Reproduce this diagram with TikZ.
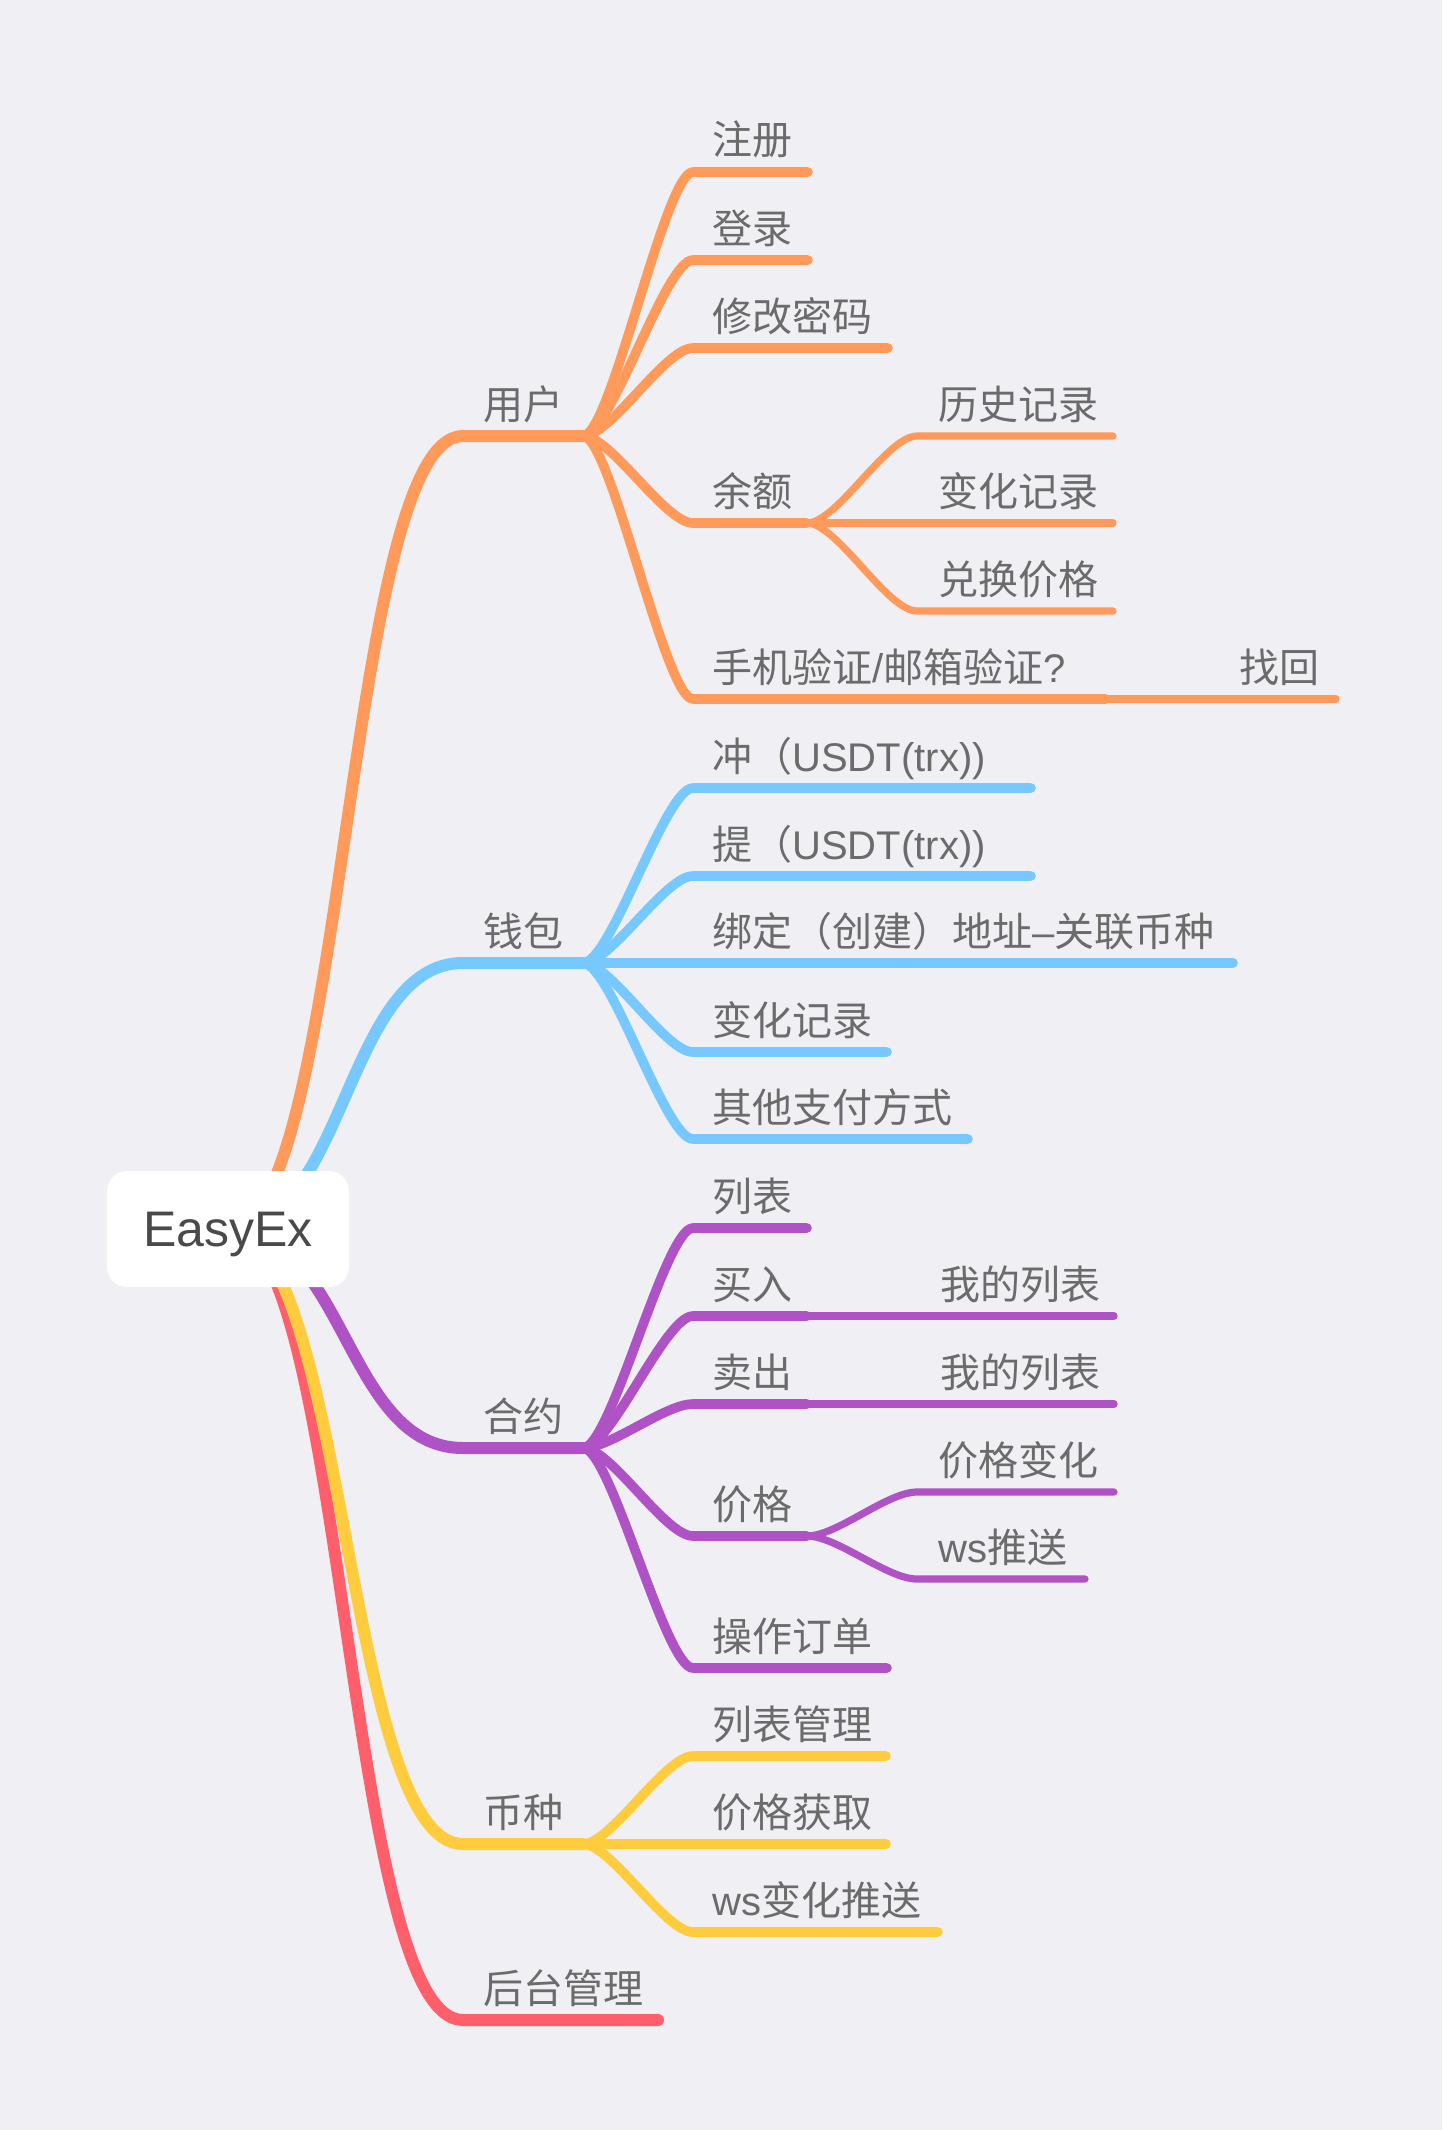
\documentclass[tikz,border=0pt]{standalone}
\usepackage{fontspec}
\setmainfont{Noto Sans CJK SC}
\newfontfamily\lat{Liberation Sans}
\definecolor{bgc}{HTML}{EFEFF4}
\definecolor{orangec}{HTML}{FF9A5B}
\definecolor{bluec}{HTML}{76C8FE}
\definecolor{purplec}{HTML}{AF52C6}
\definecolor{yellowc}{HTML}{FFCC3E}
\definecolor{redc}{HTML}{FF5F6A}
\definecolor{txt}{HTML}{6B6B6B}
\definecolor{roottxt}{HTML}{4A4A4A}
\tikzset{
  l1/.style={line width=6pt, line cap=round, line join=round},
  l2/.style={line width=4.8pt, line cap=round, line join=round},
  l3/.style={line width=3.6pt, line cap=round, line join=round},
  lbl/.style={anchor=base west, inner sep=0pt, text=txt, font=\fontsize{20pt}{24pt}\selectfont},
  rootbox/.style={fill=white, rounded corners=10pt, inner sep=0pt, minimum width=121pt, minimum height=58pt,
    text height=17.9pt, text depth=0pt, text=roottxt, font=\lat\fontsize{25pt}{30pt}\selectfont},
}
\begin{document}
\begin{tikzpicture}[x=0.5pt,y=-0.5pt]
\fill[bgc] (0,0) rectangle (1442,2130);
\path[use as bounding box] (0,0) rectangle (1442,2130);
\coordinate (rc) at (228,1229);

% ---------- level 1 ----------
\coordinate (us) at (463,436);  \coordinate (ue) at (583,436);
\coordinate (ws) at (463,963);  \coordinate (we) at (583,963);
\coordinate (hs) at (463,1448); \coordinate (he) at (583,1448);
\coordinate (bs) at (463,1844); \coordinate (be) at (583,1844);
\coordinate (gs) at (463,2020); \coordinate (ge) at (658,2020);

\draw[l1, orangec] (rc) .. controls +(118,0) and +(-118,0) .. (us) -- (ue);
\draw[l1, bluec]   (rc) .. controls +(118,0) and +(-118,0) .. (ws) -- (we);
\draw[l1, purplec] (rc) .. controls +(118,0) and +(-118,0) .. (hs) -- (he);
\draw[l1, redc]    (rc) .. controls +(118,0) and +(-118,0) .. (gs) -- (ge);
\draw[l1, yellowc] (rc) .. controls +(118,0) and +(-118,0) .. (bs) -- (be);

\node[lbl] (ut) at (483,419)  {用户};
\node[lbl] (wt) at (483,946)  {钱包};
\node[lbl] (ht) at (483,1431) {合约};
\node[lbl] (bt) at (483,1827) {币种};
\node[lbl] (gt) at (483,2003) {后台管理};

% ---------- 用户 ----------
\coordinate (u1s) at (693,172); \coordinate (u1e) at (808,172);
\coordinate (u2s) at (693,260); \coordinate (u2e) at (808,260);
\coordinate (u3s) at (693,348); \coordinate (u3e) at (888,348);
\coordinate (u4s) at (693,523); \coordinate (u4e) at (807,523);
\coordinate (u5s) at (693,699); \coordinate (u5e) at (1106,699);
\foreach \c in {u1,u2,u3,u4,u5}
  \draw[l2, orangec] (ue) .. controls +(28,0) and +(-28,0) .. (\c s) -- (\c e);
\node[lbl] (u1t) at (712,155) {注册};
\node[lbl] (u2t) at (712,243) {登录};
\node[lbl] (u3t) at (712,331) {修改密码};
\node[lbl] (u4t) at (712,506) {余额};
\node[lbl] (u5t) at (712,682) {手机验证{\lat /}邮箱验证{\lat ?}};

\coordinate (y1s) at (917,436); \coordinate (y1e) at (1113,436);
\coordinate (y2s) at (917,523); \coordinate (y2e) at (1113,523);
\coordinate (y3s) at (917,611); \coordinate (y3e) at (1113,611);
\foreach \c in {y1,y2,y3}
  \draw[l3, orangec] (u4e) .. controls +(30,0) and +(-30,0) .. (\c s) -- (\c e);
\node[lbl] (y1t) at (938,419) {历史记录};
\node[lbl] (y2t) at (938,506) {变化记录};
\node[lbl] (y3t) at (938,594) {兑换价格};

\coordinate (f1s) at (1216,699); \coordinate (f1e) at (1336,699);
\draw[l3, orangec] (u5e) -- (f1s) -- (f1e);
\node[lbl] (f1t) at (1239,682) {找回};

% ---------- 钱包 ----------
\coordinate (w1s) at (693,788);  \coordinate (w1e) at (1031,788);
\coordinate (w2s) at (693,876);  \coordinate (w2e) at (1031,876);
\coordinate (w3s) at (693,963);  \coordinate (w3e) at (1233,963);
\coordinate (w4s) at (693,1052); \coordinate (w4e) at (887,1052);
\coordinate (w5s) at (693,1139); \coordinate (w5e) at (968,1139);
\foreach \c in {w1,w2,w3,w4,w5}
  \draw[l2, bluec] (we) .. controls +(28,0) and +(-28,0) .. (\c s) -- (\c e);
\node[lbl] (w1t) at (712,771)  {冲（{\lat USDT(trx))}};
\node[lbl] (w2t) at (712,859)  {提（{\lat USDT(trx))}};
\node[lbl] (w3t) at (712,946)  {绑定（创建）地址{\lat –}关联币种};
\node[lbl] (w4t) at (712,1035) {变化记录};
\node[lbl] (w5t) at (712,1122) {其他支付方式};

% ---------- 合约 ----------
\coordinate (h1s) at (693,1228); \coordinate (h1e) at (807,1228);
\coordinate (h2s) at (693,1316); \coordinate (h2e) at (807,1316);
\coordinate (h3s) at (693,1404); \coordinate (h3e) at (807,1404);
\coordinate (h4s) at (693,1536); \coordinate (h4e) at (807,1536);
\coordinate (h5s) at (693,1668); \coordinate (h5e) at (887,1668);
\foreach \c in {h1,h2,h3,h4,h5}
  \draw[l2, purplec] (he) .. controls +(28,0) and +(-28,0) .. (\c s) -- (\c e);
\node[lbl] (h1t) at (712,1211) {列表};
\node[lbl] (h2t) at (712,1299) {买入};
\node[lbl] (h3t) at (712,1387) {卖出};
\node[lbl] (h4t) at (712,1519) {价格};
\node[lbl] (h5t) at (712,1651) {操作订单};

\coordinate (m1s) at (917,1316); \coordinate (m1e) at (1114,1316);
\coordinate (m2s) at (917,1404); \coordinate (m2e) at (1114,1404);
\draw[l3, purplec] (h2e) -- (m1s) -- (m1e);
\draw[l3, purplec] (h3e) -- (m2s) -- (m2e);
\node[lbl] (m1t) at (940,1299) {我的列表};
\node[lbl] (m2t) at (940,1387) {我的列表};

\coordinate (p1s) at (917,1492); \coordinate (p1e) at (1114,1492);
\coordinate (p2s) at (917,1579); \coordinate (p2e) at (1085,1579);
\foreach \c in {p1,p2}
  \draw[l3, purplec] (h4e) .. controls +(30,0) and +(-30,0) .. (\c s) -- (\c e);
\node[lbl] (p1t) at (938,1475) {价格变化};
\node[lbl] (p2t) at (938,1562) {{\lat ws}推送};

% ---------- 币种 ----------
\coordinate (b1s) at (693,1756); \coordinate (b1e) at (886,1756);
\coordinate (b2s) at (693,1844); \coordinate (b2e) at (886,1844);
\coordinate (b3s) at (693,1932); \coordinate (b3e) at (938,1932);
\foreach \c in {b1,b2,b3}
  \draw[l2, yellowc] (be) .. controls +(28,0) and +(-28,0) .. (\c s) -- (\c e);
\node[lbl] (b1t) at (712,1739) {列表管理};
\node[lbl] (b2t) at (712,1827) {价格获取};
\node[lbl] (b3t) at (712,1915) {{\lat ws}变化推送};

% ---------- root ----------
\node[rootbox] (root) at (rc) {EasyEx};
\end{tikzpicture}
\end{document}
